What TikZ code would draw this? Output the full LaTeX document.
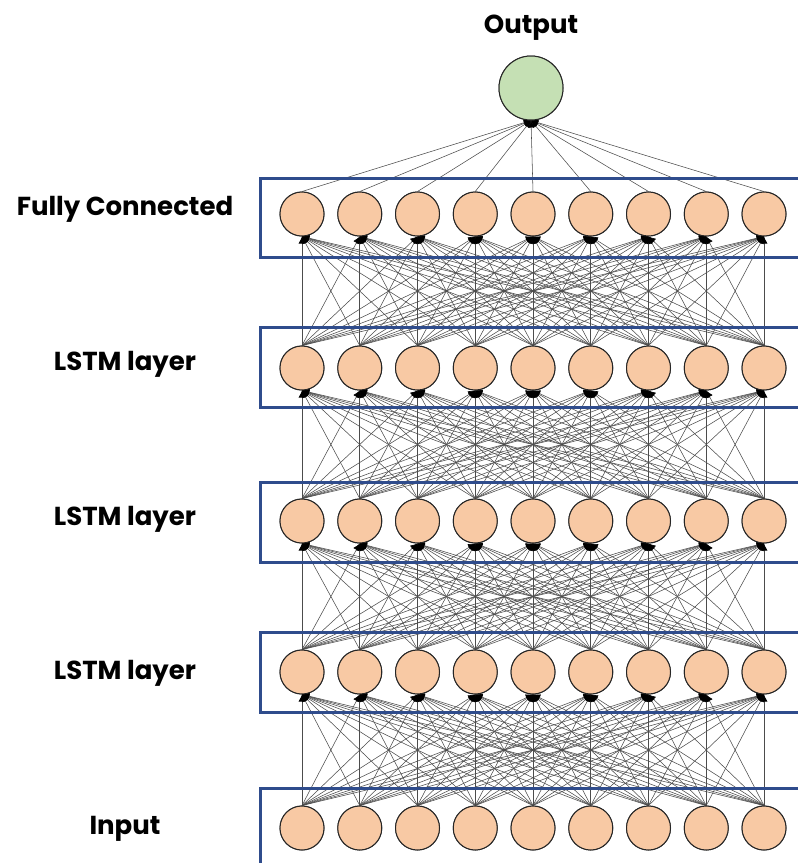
\documentclass[tikz,border=0pt]{standalone}
\usepackage{fontspec}
\setmainfont{Poppins}
\usetikzlibrary{arrows.meta}
\definecolor{neuron}{HTML}{F8C9A4}
\definecolor{outc}{HTML}{C5E0B4}
\definecolor{boxblue}{HTML}{2F4C8C}
\begin{document}
\begin{tikzpicture}[x=1pt,y=-1pt,
  neur/.style={circle,draw=black!85,line width=1pt,fill=neuron,minimum size=44pt,inner sep=0pt},
  outn/.style={circle,draw=black!85,line width=1pt,fill=outc,minimum size=64pt,inner sep=0pt},
  conn/.style={draw=black!70,line width=0.55pt,-{Latex[length=7pt,width=7pt,black]}},
  layerbox/.style={draw=boxblue,line width=3pt},
  lab/.style={font=\bfseries\fontsize{26}{30}\selectfont,text=black}]
\useasboundingbox (0,0) rectangle (798,863);
\begin{scope}
\clip (0,0) rectangle (798,863);
% neurons
\foreach \l/\y in {0/828,1/672,2/521,3/368,4/214}{
  \foreach \i in {1,...,9}{
    \node[neur] (n-\l-\i) at ({302+57.75*(\i-1)},\y) {};
  }
}
\node[outn] (out) at (531,88) {};
% connections
\foreach \l [evaluate=\l as \m using int(\l+1)] in {0,1,2,3}{
  \foreach \i in {1,...,9}{
    \foreach \j in {1,...,9}{
      \draw[conn] (n-\l-\i.north) -- (n-\m-\j.south);
    }
  }
}
\foreach \i in {1,...,9}{
  \draw[conn] (n-4-\i.north) -- (out.south);
}
% boxes
\draw[layerbox] (260,178) rectangle (810,257);
\draw[layerbox] (260,327) rectangle (810,407);
\draw[layerbox] (260,482) rectangle (810,562);
\draw[layerbox] (260,632) rectangle (810,712);
\draw[layerbox] (260,788) rectangle (810,880);
% redraw neurons on top
\foreach \l/\y in {0/828,1/672,2/521,3/368,4/214}{
  \foreach \i in {1,...,9}{
    \node[neur] at ({302+57.75*(\i-1)},\y) {};
  }
}
\node[outn] at (531,88) {};
\end{scope}
% labels
\node[lab] (t-out) at (531,28) {Output};
\node[lab] (t-fc) at (125,209) {Fully Connected};
\node[lab] (t-l1) at (125,364) {LSTM layer};
\node[lab] (t-l2) at (125,519) {LSTM layer};
\node[lab] (t-l3) at (125,673) {LSTM layer};
\node[lab] (t-in) at (125,829) {Input};
\end{tikzpicture}
\end{document}
